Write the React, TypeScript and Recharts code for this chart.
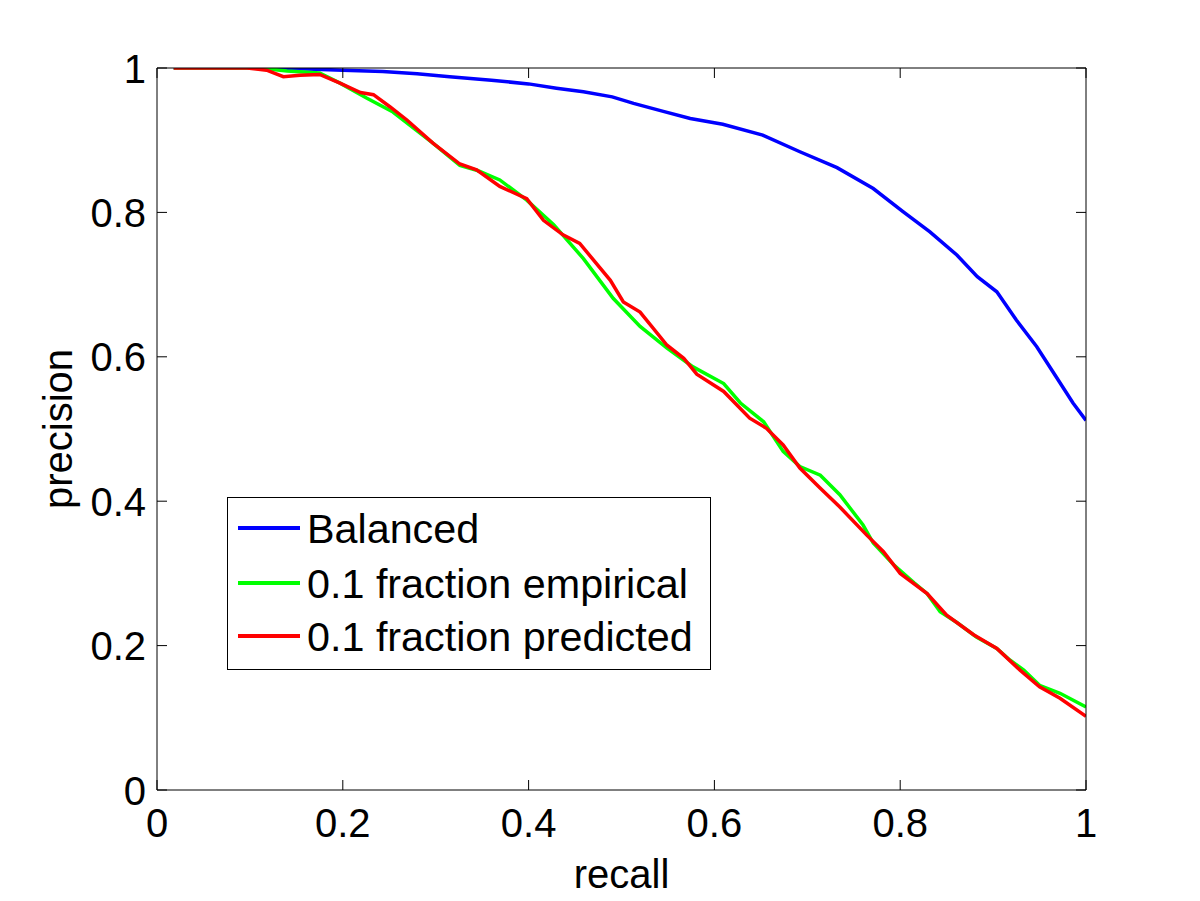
import React from 'react';
import { LineChart, Line, XAxis, YAxis, Legend } from 'recharts';

const FONT = "'Liberation Sans', Arial, Helvetica, sans-serif";

const xTicks = [0, 0.2, 0.4, 0.6, 0.8, 1];
const yTicks = [0, 0.2, 0.4, 0.6, 0.8, 1];

const balancedRecall = [0.018, 0.1, 0.154, 0.2, 0.243, 0.28, 0.315, 0.36, 0.4, 0.43, 0.459, 0.49, 0.513, 0.545, 0.574, 0.609, 0.652, 0.692, 0.732, 0.771, 0.803, 0.832, 0.861, 0.883, 0.904, 0.925, 0.947, 0.968, 0.986, 1.0];
const balancedPrecision = [1.0, 1.0, 0.999, 0.997, 0.995, 0.992, 0.988, 0.983, 0.978, 0.972, 0.967, 0.96, 0.951, 0.94, 0.93, 0.922, 0.907, 0.884, 0.862, 0.833, 0.801, 0.773, 0.741, 0.711, 0.69, 0.651, 0.614, 0.572, 0.536, 0.512];

const empiricalRecall = [0.018, 0.097, 0.118, 0.14, 0.175, 0.197, 0.226, 0.254, 0.297, 0.326, 0.345, 0.369, 0.398, 0.427, 0.459, 0.491, 0.52, 0.549, 0.577, 0.61, 0.628, 0.653, 0.674, 0.692, 0.714, 0.735, 0.76, 0.771, 0.793, 0.815, 0.829, 0.843, 0.861, 0.882, 0.904, 0.918, 0.933, 0.95, 0.972, 1.0];
const empiricalPrecision = [1.0, 1.0, 0.999, 0.996, 0.993, 0.979, 0.958, 0.939, 0.896, 0.865, 0.858, 0.845, 0.817, 0.783, 0.736, 0.681, 0.642, 0.612, 0.586, 0.563, 0.536, 0.51, 0.469, 0.448, 0.436, 0.409, 0.367, 0.342, 0.312, 0.287, 0.272, 0.247, 0.232, 0.212, 0.196, 0.18, 0.166, 0.145, 0.134, 0.115];

const predictedRecall = [0.018, 0.097, 0.118, 0.136, 0.154, 0.175, 0.197, 0.219, 0.233, 0.251, 0.269, 0.297, 0.326, 0.344, 0.369, 0.398, 0.416, 0.437, 0.455, 0.488, 0.502, 0.52, 0.549, 0.567, 0.581, 0.61, 0.638, 0.656, 0.674, 0.692, 0.714, 0.735, 0.764, 0.782, 0.8, 0.829, 0.85, 0.879, 0.904, 0.929, 0.95, 0.972, 1.0];
const predictedPrecision = [1.0, 1.0, 0.997, 0.988, 0.99, 0.991, 0.979, 0.966, 0.963, 0.946, 0.928, 0.896, 0.867, 0.859, 0.836, 0.819, 0.789, 0.769, 0.757, 0.706, 0.676, 0.662, 0.616, 0.598, 0.576, 0.552, 0.515, 0.501, 0.478, 0.446, 0.418, 0.392, 0.353, 0.33, 0.3, 0.272, 0.242, 0.215, 0.196, 0.166, 0.143, 0.127, 0.102];

const seriesNames = ['Balanced', '0.1 fraction empirical', '0.1 fraction predicted'];
const seriesColors = ['#0000ff', '#00ff00', '#ff0000'];

const zip = (rs: number[], ps: number[]) => rs.map((r, i) => ({ r, p: ps[i] }));
const balancedData = zip(balancedRecall, balancedPrecision);
const empiricalData = zip(empiricalRecall, empiricalPrecision);
const predictedData = zip(predictedRecall, predictedPrecision);

const fmt = (v: number) => (v === 0 || v === 1 ? String(v) : v.toFixed(1));

const TICK_LEN = 10;
const FS = 40;

const BottomTick = (props: any) => {
  const { x, y, payload } = props;
  return (
    <g>
      <line x1={x} y1={y} x2={x} y2={y - TICK_LEN} stroke="#000" strokeWidth={1} />
      <text x={x} y={y + 47} textAnchor="middle" fontSize={FS} fontFamily={FONT} fill="#000">
        {fmt(payload.value)}
      </text>
    </g>
  );
};

const TopTick = (props: any) => {
  const { x, y } = props;
  return <line x1={x} y1={y} x2={x} y2={y + TICK_LEN} stroke="#000" strokeWidth={1} />;
};

const LeftTick = (props: any) => {
  const { x, y, payload } = props;
  return (
    <g>
      <line x1={x} y1={y} x2={x + TICK_LEN} y2={y} stroke="#000" strokeWidth={1} />
      <text x={x - 11} y={y + 14.5} textAnchor="end" fontSize={FS} fontFamily={FONT} fill="#000">
        {fmt(payload.value)}
      </text>
    </g>
  );
};

const RightTick = (props: any) => {
  const { x, y } = props;
  return <line x1={x} y1={y} x2={x - TICK_LEN} y2={y} stroke="#000" strokeWidth={1} />;
};

const XLabel = (props: any) => {
  const vb = props.viewBox || { x: 157, y: 790, width: 929, height: 111 };
  return (
    <text x={vb.x + vb.width / 2} y={vb.y + 98} textAnchor="middle" fontSize={FS} fontFamily={FONT} fill="#000">
      recall
    </text>
  );
};

const YLabel = (props: any) => {
  const vb = props.viewBox || { x: 0, y: 68, width: 157, height: 722 };
  const cx = vb.x + 72;
  const cy = vb.y + vb.height / 2;
  return (
    <text x={cx} y={cy} transform={`rotate(-90 ${cx} ${cy})`} textAnchor="middle" fontSize={FS} fontFamily={FONT} fill="#000">
      precision
    </text>
  );
};

const LegendBox = () => {
  const rowY = [31, 86, 139];
  return (
    <svg width={485} height={174} style={{ display: 'block' }}>
      <rect x={0.5} y={0.5} width={483} height={172} fill="#fff" stroke="#000" strokeWidth={1} />
      {seriesNames.map((name, i) => (
        <g key={name}>
          <line x1={11} y1={rowY[i]} x2={73} y2={rowY[i]} stroke={seriesColors[i]} strokeWidth={4} />
          <text x={80} y={rowY[i] + 15} fontSize={41.3} fontFamily={FONT} fill="#000">
            {name}
          </text>
        </g>
      ))}
    </svg>
  );
};

export default function App() {
  return (
    <div style={{ position: 'absolute', left: 0, top: 0, width: 1200, height: 901, background: '#fff' }}>
      <LineChart width={1200} height={901} margin={{ top: 67, right: 113, left: 0, bottom: 0 }}>
        <XAxis
          xAxisId="bottom"
          dataKey="r"
          type="number"
          domain={[0, 1]}
          ticks={xTicks}
          allowDataOverflow
          height={111}
          tickSize={0}
          tickMargin={0}
          tickLine={false}
          axisLine={{ stroke: '#000', strokeWidth: 1 }}
          tick={<BottomTick />}
          label={<XLabel />}
          interval={0}
        />
        <XAxis
          xAxisId="top"
          orientation="top"
          dataKey="r"
          type="number"
          domain={[0, 1]}
          ticks={xTicks}
          allowDataOverflow
          height={1}
          tickSize={0}
          tickMargin={0}
          tickLine={false}
          axisLine={{ stroke: '#000', strokeWidth: 1 }}
          tick={<TopTick />}
          interval={0}
        />
        <YAxis
          yAxisId="left"
          dataKey="p"
          type="number"
          domain={[0, 1]}
          ticks={yTicks}
          allowDataOverflow
          width={157}
          tickSize={0}
          tickMargin={0}
          tickLine={false}
          axisLine={{ stroke: '#000', strokeWidth: 1 }}
          tick={<LeftTick />}
          label={<YLabel />}
          interval={0}
        />
        <YAxis
          yAxisId="right"
          orientation="right"
          dataKey="p"
          type="number"
          domain={[0, 1]}
          ticks={yTicks}
          allowDataOverflow
          width={1}
          tickSize={0}
          tickMargin={0}
          tickLine={false}
          axisLine={{ stroke: '#000', strokeWidth: 1 }}
          tick={<RightTick />}
          interval={0}
        />
        <Line
          xAxisId="bottom"
          yAxisId="left"
          data={balancedData}
          dataKey="p"
          name={seriesNames[0]}
          type="linear"
          stroke={seriesColors[0]}
          strokeWidth={3.5}
          dot={false}
          isAnimationActive={false}
        />
        <Line
          xAxisId="top"
          yAxisId="right"
          data={empiricalData}
          dataKey="p"
          name={seriesNames[1]}
          type="linear"
          stroke={seriesColors[1]}
          strokeWidth={3.5}
          dot={false}
          isAnimationActive={false}
        />
        <Line
          xAxisId="bottom"
          yAxisId="left"
          data={predictedData}
          dataKey="p"
          name={seriesNames[2]}
          type="linear"
          stroke={seriesColors[2]}
          strokeWidth={3.5}
          dot={false}
          isAnimationActive={false}
        />
        <Legend
          layout="horizontal"
          verticalAlign="middle"
          align="center"
          content={<LegendBox />}
          wrapperStyle={{ position: 'absolute', left: 227, top: 497, width: 485, height: 174 }}
        />
      </LineChart>
    </div>
  );
}
